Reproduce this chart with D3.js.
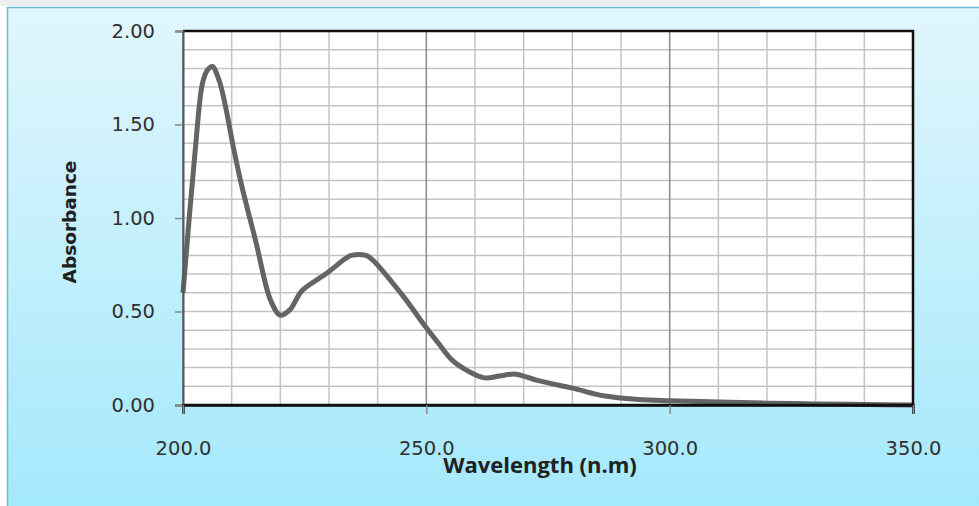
<!DOCTYPE html>
<html>
<head>
<meta charset="utf-8">
<script src="https://cdn.jsdelivr.net/npm/d3@7"></script>
<style>
	body { margin: 0; background: #ffffff; }
	svg { display: block; }
	.tick-label { font-family: "DejaVu Sans", Verdana, sans-serif; font-size: 19.5px; fill: #303030; }
	.axis-title { font-family: "Open Sans", sans-serif; font-weight: 700; font-size: 22px; fill: #202020; }
	.y-title { font-family: "DejaVu Sans", sans-serif; font-weight: 700; font-size: 18.5px; fill: #202020; }
</style>
</head>
<body>
<svg id="viz" width="979" height="506"></svg>
<script>

// spectrum
let wavelength = [200, 202.5, 204, 205, 206, 207.5, 210.5, 212, 215, 218, 220, 222, 224.4, 229.3, 233.5, 234.6, 237.6, 239,
	245, 249.8, 252.5, 255.3, 258.7, 262, 265, 268.3, 273, 280, 286.7, 293.6, 300, 310, 320, 330, 340, 350];
let absorbance = [0.60, 1.36, 1.72, 1.79, 1.81, 1.73, 1.36, 1.18, 0.87, 0.56, 0.48, 0.51, 0.61, 0.70, 0.785, 0.80, 0.80, 0.775,
	0.59, 0.42, 0.33, 0.24, 0.18, 0.145, 0.155, 0.165, 0.13, 0.09, 0.048, 0.03, 0.023, 0.016, 0.01, 0.006, 0.003, 0.0];

let xTicks = [200, 250, 300, 350];
let yTicks = [0, 0.5, 1.0, 1.5, 2.0];
let xMinor = d3.range(200, 351, 10);
let yMinor = d3.range(0, 2.001, 0.1);

let drawChart = function() {

	const plotBox = {left: 183, right: 913, top: 31, bottom: 405};

	let svg = d3.select("body").select("svg#viz");

	// background frame with gradient
	let defs = svg.append("defs");
	let grad = defs.append("linearGradient")
		.attr("id", "bg").attr("x1", 0).attr("y1", 0).attr("x2", 0).attr("y2", 1);
	grad.append("stop").attr("offset", "0%").attr("stop-color", "#e1f6fd");
	grad.append("stop").attr("offset", "100%").attr("stop-color", "#a2e8fc");

	svg.append("rect")
		.attr("x", 0).attr("y", 0).attr("width", 760).attr("height", 6)
		.attr("fill", "#eeeef0");

	svg.append("rect")
		.attr("x", 7.5).attr("y", 7.5)
		.attr("width", 990).attr("height", 520)
		.attr("fill", "url(#bg)")
		.attr("stroke", "#6cbcd6")
		.attr("stroke-width", 1.5);

	let x = d3.scaleLinear().domain([200, 350]).range([plotBox.left, plotBox.right]);
	let y = d3.scaleLinear().domain([0, 2]).range([plotBox.bottom, plotBox.top]);

	// plot area
	svg.append("rect")
		.attr("x", plotBox.left).attr("y", plotBox.top)
		.attr("width", plotBox.right - plotBox.left)
		.attr("height", plotBox.bottom - plotBox.top)
		.attr("fill", "#ffffff");

	let grid = svg.append("g").attr("id", "grid");

	grid.selectAll("line.hgrid")
		.data(yMinor)
		.enter().append("line")
		.attr("class", "hgrid")
		.attr("x1", plotBox.left).attr("x2", plotBox.right)
		.attr("y1", d => y(d)).attr("y2", d => y(d))
		.attr("stroke", "#c4c4c4").attr("stroke-width", 1.5);

	grid.selectAll("line.vgrid")
		.data(xMinor)
		.enter().append("line")
		.attr("class", "vgrid")
		.attr("x1", d => x(d)).attr("x2", d => x(d))
		.attr("y1", plotBox.top).attr("y2", plotBox.bottom)
		.attr("stroke", d => (d % 50 == 0) ? "#8a8a8a" : "#c4c4c4")
		.attr("stroke-width", 1.5);

	// the spectrum
	let points = wavelength.map((w, i) => [w, absorbance[i]]);
	let line = d3.line()
		.x(d => x(d[0]))
		.y(d => y(d[1]))
		.curve(d3.curveCatmullRom.alpha(0.5));

	svg.append("path")
		.datum(points)
		.attr("fill", "none")
		.attr("stroke", "#646464")
		.attr("stroke-width", 5)
		.attr("stroke-linejoin", "round")
		.attr("d", line);

	// border of plot area
	svg.append("path")
		.attr("d", `M${plotBox.left},${plotBox.top} H${plotBox.right} V${plotBox.bottom} H${plotBox.left}`)
		.attr("fill", "none")
		.attr("stroke", "#101010")
		.attr("stroke-width", 2.5);

	// axes
	let yAxis = d3.axisLeft(y).tickValues(yTicks).tickSize(8).tickFormat(d3.format(".2f"));
	let yGroup = svg.append("g").attr("transform", `translate(${plotBox.left},0)`).call(yAxis);
	yGroup.select(".domain").attr("stroke", "#555").attr("stroke-width", 2);
	yGroup.selectAll(".tick line").attr("stroke", "#888").attr("stroke-width", 1.5);
	yGroup.selectAll(".tick text")
		.attr("class", "tick-label")
		.attr("x", -28)
		.attr("font-family", null).attr("font-size", null).attr("fill", null);

	let xAxis = d3.axisBottom(x).tickValues(xTicks).tickSize(9).tickFormat(d3.format(".1f"));
	let xGroup = svg.append("g").attr("transform", `translate(0,${plotBox.bottom})`).call(xAxis);
	xGroup.select(".domain").attr("stroke", "#101010").attr("stroke-width", 2.5);
	xGroup.selectAll(".tick line").attr("stroke", "#888").attr("stroke-width", 1.5);
	xGroup.selectAll(".tick text")
		.attr("class", "tick-label")
		.attr("y", 50).attr("dy", null)
		.attr("font-family", null).attr("font-size", null).attr("fill", null);

	// titles
	svg.append("text")
		.attr("class", "axis-title")
		.attr("x", 540).attr("y", 473)
		.attr("text-anchor", "middle")
		.text("Wavelength (n.m)");

	svg.append("text")
		.attr("class", "y-title")
		.attr("transform", "translate(76,222) rotate(-90)")
		.attr("text-anchor", "middle")
		.text("Absorbance");
};

drawChart();
</script>
</body>
</html>
